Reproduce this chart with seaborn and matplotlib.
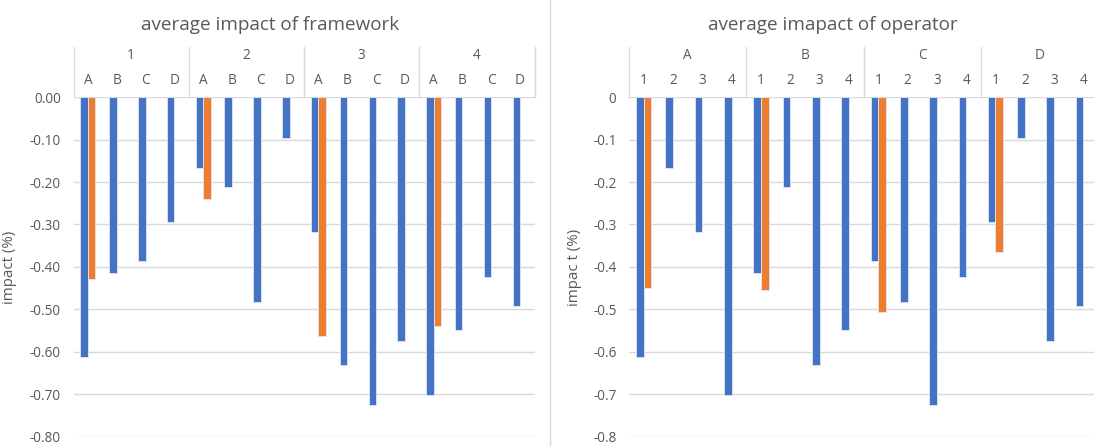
import matplotlib
matplotlib.use("Agg")
import matplotlib.pyplot as plt
import matplotlib.transforms as mtransforms
import seaborn as sns
import pandas as pd

# data
frameworks = ["1", "2", "3", "4"]
operators = ["A", "B", "C", "D"]
# blue series, rows = framework, columns = operator
blue_values = [
    [-0.612, -0.415, -0.385, -0.295],
    [-0.168, -0.212, -0.483, -0.096],
    [-0.317, -0.631, -0.725, -0.573],
    [-0.702, -0.549, -0.424, -0.491],
]
# orange series, only on the first bar of each group
orange_framework = [-0.428, -0.239, -0.562, -0.540]
orange_operator = [-0.450, -0.453, -0.505, -0.365]

blue = "#4472C4"
orange = "#ED7D31"
grey_text = "#595959"
grid_col = "#d9d9d9"

sns.set_theme(style="white")
plt.rcParams["font.family"] = ["Open Sans", "DejaVu Sans"]


def build_frame(outer, inner, by_operator, orange_vals):
    rows = []
    for gi, g in enumerate(outer):
        for ci, c in enumerate(inner):
            key = f"{g}-{c}"
            val = blue_values[ci][gi] if by_operator else blue_values[gi][ci]
            rows.append({"cat": key, "series": "s1", "value": val})
            if ci == 0:
                rows.append({"cat": key, "series": "s2", "value": orange_vals[gi]})
    return pd.DataFrame(rows)


def draw_panel(ax, outer, inner, df, fmt, ylabel, ylabel_x):
    order = [f"{g}-{c}" for g in outer for c in inner]
    sns.barplot(data=df, x="cat", y="value", hue="series", order=order,
                hue_order=["s1", "s2"], palette=[blue, orange], width=0.52,
                errorbar=None, ax=ax, legend=False, linewidth=0.6,
                edgecolor="#dfe7f5", saturation=1)
    ax.set_ylim(-0.8, 0)
    ax.set_xlim(-0.5, len(order) - 0.5)
    ticks = [-0.8, -0.7, -0.6, -0.5, -0.4, -0.3, -0.2, -0.1, 0.0]
    ax.set_yticks(ticks)
    ax.set_yticklabels([fmt(t) for t in ticks], color=grey_text, fontsize=9.8)
    ax.tick_params(axis="y", length=0, pad=9)
    ax.set_xticks([])
    ax.set_xlabel("")
    ax.set_ylabel(ylabel, color=grey_text, fontsize=10.8)
    ax.yaxis.set_label_coords(ylabel_x, 0.5)
    for s in ax.spines.values():
        s.set_visible(False)
    for t in ticks:
        ax.axhline(t, color=grid_col, lw=1, zorder=0)

    # hierarchical category header above the plot
    tr = mtransforms.blended_transform_factory(ax.transData, ax.transAxes)
    n = len(inner)
    for gi, g in enumerate(outer):
        ax.text(gi * n + (n - 1) / 2, 1.123, g, transform=tr, ha="center",
                va="center", color=grey_text, fontsize=9.8, clip_on=False)
        for ci, c in enumerate(inner):
            ax.text(gi * n + ci, 1.05, c, transform=tr, ha="center",
                    va="center", color=grey_text, fontsize=9.8, clip_on=False)
    for b in range(len(outer) + 1):
        ax.plot([b * n - 0.5, b * n - 0.5], [1.0, 1.147], transform=tr,
                color=grid_col, lw=1, clip_on=False)


fig = plt.figure(figsize=(10.94, 4.46), dpi=100)
ax1 = fig.add_axes([0.0672, 0.0202, 0.4214, 0.7623])
ax2 = fig.add_axes([0.5750, 0.0202, 0.4287, 0.7623])

df_left = build_frame(frameworks, operators, False, orange_framework)
df_right = build_frame(operators, frameworks, True, orange_operator)

draw_panel(ax1, frameworks, operators, df_left, lambda t: f"{t:.2f}",
           "impact (%)", -0.122)
draw_panel(ax2, operators, frameworks, df_right,
           lambda t: "0" if t == 0 else f"{t:.1f}", "impac t (%)", -0.10)

fig.text(0.247, 0.944, "average impact of framework", ha="center",
         va="center", color=grey_text, fontsize=13.6)
fig.text(0.761, 0.944, "average imapact of operator", ha="center",
         va="center", color=grey_text, fontsize=13.6)

# divider between the two charts
fig.add_artist(plt.Line2D([550 / 1094, 550 / 1094], [0, 1], color=grid_col,
                          lw=1, transform=fig.transFigure))

fig.savefig("out.png", dpi=100)
